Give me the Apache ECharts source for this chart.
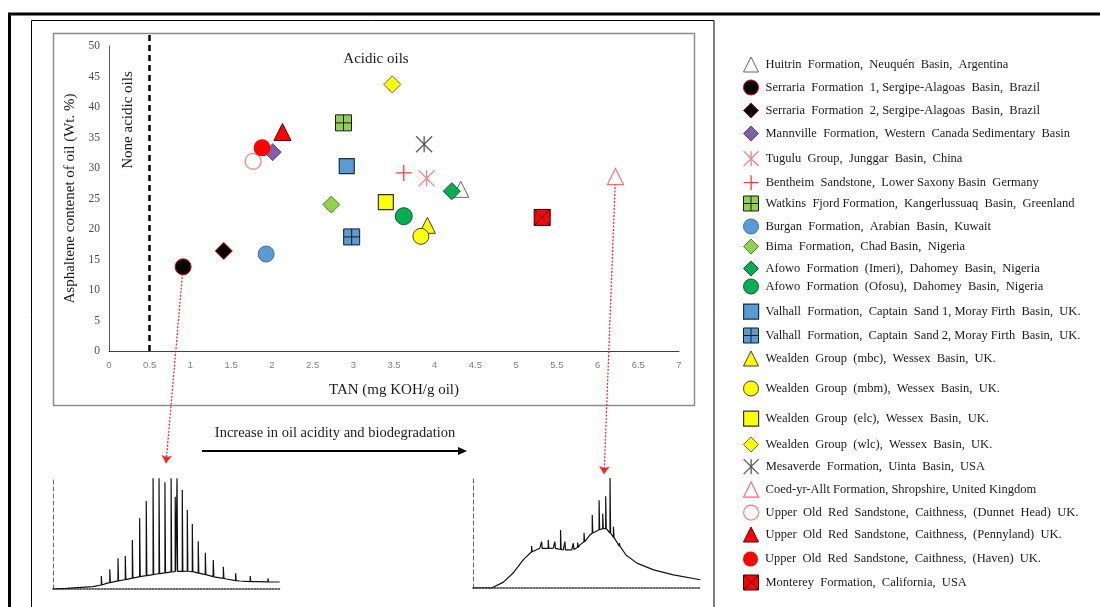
<!DOCTYPE html>
<html>
<head>
<meta charset="utf-8">
<script src="https://cdn.jsdelivr.net/npm/echarts@6/dist/echarts.min.js"></script>
<style>
  html, body { margin: 0; padding: 0; background: #fff; }
  #main { width: 1100px; height: 607px; }
</style>
</head>
<body>
<div id="main"></div>
<script>
// 数据：地层名称、TAN 与沥青质含量
const formations = [
  'Huitrin  Formation,  Neuquén  Basin,  Argentina',
  'Serraria  Formation  1, Sergipe-Alagoas  Basin,  Brazil',
  'Serraria  Formation  2, Sergipe-Alagoas  Basin,  Brazil',
  'Mannville  Formation,  Western  Canada Sedimentary  Basin',
  'Tugulu  Group,  Junggar  Basin,  China',
  'Bentheim  Sandstone,  Lower Saxony Basin  Germany',
  'Watkins  Fjord Formation,  Kangerlussuaq  Basin,  Greenland',
  'Burgan  Formation,  Arabian  Basin,  Kuwait',
  'Bima  Formation,  Chad Basin,  Nigeria',
  'Afowo  Formation  (Imeri),  Dahomey  Basin,  Nigeria',
  'Afowo  Formation  (Ofosu),  Dahomey  Basin,  Nigeria',
  'Valhall  Formation,  Captain  Sand 1, Moray Firth  Basin,  UK.',
  'Valhall  Formation,  Captain  Sand 2, Moray Firth  Basin,  UK.',
  'Wealden  Group  (mbc),  Wessex  Basin,  UK.',
  'Wealden  Group  (mbm),  Wessex  Basin,  UK.',
  'Wealden  Group  (elc),  Wessex  Basin,  UK.',
  'Wealden  Group  (wlc),  Wessex  Basin,  UK.',
  'Mesaverde  Formation,  Uinta  Basin,  USA',
  'Coed-yr-Allt Formation, Shropshire, United Kingdom',
  'Upper  Old  Red  Sandstone,  Caithness,  (Dunnet  Head)  UK.',
  'Upper  Old  Red  Sandstone,  Caithness,  (Pennyland)  UK.',
  'Upper  Old  Red  Sandstone,  Caithness,  (Haven)  UK.',
  'Monterey  Formation,  California,  USA'
]
const tanValues = [4.32, 0.91, 1.41, 2.01, 3.90, 3.62, 2.88, 1.93, 2.73, 4.21, 3.62, 2.92,
  2.98, 3.91, 3.83, 3.40, 3.48, 3.87, 6.22, 1.77, 2.13, 1.88, 5.32]
const asphaltene = [26.5, 13.8, 16.4, 32.6, 28.3, 29.2, 37.4, 15.9, 24.0, 26.2, 22.1, 30.3,
  18.7, 20.6, 18.8, 24.4, 43.7, 33.9, 28.6, 31.1, 35.9, 33.3, 21.9]
const xTicks = { min: 0, max: 7, step: 0.5 }
const yTicks = { min: 0, max: 50, step: 5 }

// 色谱图（左：轻度降解，右：严重降解）
const leftHump = [[0, 0], [5.9, 0.6], [17.5, 2.1], [23.4, 5.1], [30.7, 8.1], [38.0, 11.1],
  [45.4, 13.5], [52.6, 15.6], [60.0, 15.9], [64.3, 14.1], [70.2, 11.1], [76.0, 9.0],
  [81.9, 7.2], [89.2, 6.6], [99.4, 6.3]]
const leftSpikeX = [21.2, 24.9, 28.5, 31.7, 34.8, 38.0, 40.9, 43.9, 46.5, 49.1, 51.8, 53.6,
  54.4, 56.7, 58.9, 61.1, 63.7, 66.8, 70.3, 74.7, 80.1, 86.5, 94.3]
const leftSpikeBase = [3.6, 5.8, 7.3, 8.5, 9.8, 11.1, 12.0, 13.0, 13.8, 14.6, 15.4, 15.7,
  15.8, 15.9, 16.0, 15.6, 14.3, 13.0, 11.0, 9.6, 7.6, 6.7, 6.4]
const leftSpikeTop = [11.7, 17.7, 27.6, 29.7, 44.1, 63.7, 79.3, 99.7, 99.7, 96.1, 99.7, 83.2,
  99.7, 89.2, 71.2, 58.6, 42.9, 32.7, 26.1, 20.1, 14.1, 11.7, 9.6]

const rightHump = [[0, 0], [8.1, 0], [13.2, 5.1], [17.6, 13.6], [22.0, 25.6], [25.7, 33.1],
  [29.3, 36.2], [35.2, 36.2], [39.6, 34.6], [43.3, 34.6], [46.9, 39.2], [51.3, 48.2],
  [55.7, 54.2], [58.7, 54.2], [61.6, 46.7], [64.5, 37.6], [67.5, 30.1], [71.9, 22.6],
  [79.2, 16.5], [87.9, 12.0], [99.7, 7.5]]
const rightSpikeX = [25.7, 30.1, 33.0, 35.9, 38.4, 40.3, 44.0, 45.9, 48.7, 52.3, 55.3, 56.9,
  58.2, 60.1, 61.6, 64.2, 67.1]
const rightSpikeBase = [33, 36, 36, 36, 35, 34.6, 35, 37, 42, 50, 53, 54, 54, 50, 46, 38, 30]
const rightSpikeTop = [38.2, 42.2, 43.7, 42.2, 52.7, 42.2, 40.7, 41.4, 50.3, 66.3, 79.8, 67.8,
  83.5, 100, 55.7, 40.7, 31.6]

// 注释箭头终点（数据坐标，位于坐标轴下方）
const arrowEnds = [[0.70, -18.4], [6.08, -20.2]]

// 样式
const SERIF = 'Liberation Serif'
const P_PLUS = 'path://M5 0 L5 10 M0 5 L10 5'
const P_STAR = 'path://M0 0 L10 10 M10 0 L0 10 M5 0 L5 10'
const P_SQ_PLUS = 'path://M0 0 L10 0 L10 10 L0 10 Z M5 0 L5 10 M0 5 L10 5'
const P_SQ_X = 'path://M0 0 L10 0 L10 10 L0 10 Z M0 0 L10 10 M10 0 L0 10'
const markerStyles = [
  { symbol: 'triangle', size: 16, color: '#fff', border: '#666', bw: 1 },
  { symbol: 'circle', size: 16, color: '#000', border: '#e00000', bw: 1 },
  { symbol: 'diamond', size: 17, color: '#000', border: '#e00000', bw: 1 },
  { symbol: 'diamond', size: 17, color: '#7f60a8', border: '#5f497a', bw: 1 },
  { symbol: P_STAR, size: 16, color: 'transparent', border: '#ff7c80', bw: 1.3 },
  { symbol: P_PLUS, size: 16, color: 'transparent', border: '#ff3b3b', bw: 1.3 },
  { symbol: P_SQ_PLUS, size: 16, color: '#92d050', border: '#1a1a1a', bw: 1 },
  { symbol: 'circle', size: 16, color: '#5b9bd5', border: '#41719c', bw: 1 },
  { symbol: 'diamond', size: 17, color: '#92d050', border: '#548235', bw: 1 },
  { symbol: 'diamond', size: 17, color: '#00b050', border: '#1e5a36', bw: 1 },
  { symbol: 'circle', size: 17, color: '#00b050', border: '#1e5a36', bw: 1 },
  { symbol: 'rect', size: 15, color: '#5b9bd5', border: '#1f2d3d', bw: 1.2 },
  { symbol: P_SQ_PLUS, size: 16, color: '#5b9bd5', border: '#1a1a1a', bw: 1 },
  { symbol: 'triangle', size: 16, color: '#ffff00', border: '#404040', bw: 1 },
  { symbol: 'circle', size: 16, color: '#ffff00', border: '#404040', bw: 1 },
  { symbol: 'rect', size: 15, color: '#ffff00', border: '#333', bw: 1.2 },
  { symbol: 'diamond', size: 17, color: '#ffff00', border: '#666', bw: 1 },
  { symbol: P_STAR, size: 16, color: 'transparent', border: '#595959', bw: 1.3 },
  { symbol: 'triangle', size: 16, color: '#fff', border: '#ff6a6a', bw: 1.2 },
  { symbol: 'circle', size: 16, color: '#fff', border: '#ff7c80', bw: 1.2 },
  { symbol: 'triangle', size: 17, color: '#ff0000', border: '#5a0000', bw: 1 },
  { symbol: 'circle', size: 17, color: '#ff0000', border: '#ff0000', bw: 0 },
  { symbol: P_SQ_X, size: 16, color: '#ff0000', border: '#3a0000', bw: 1 }
]
// 图例各行的中心 y（原图行距不均匀）
const legendRowY = [64, 87, 110, 133, 158, 182, 203, 226, 246, 268, 286, 311, 335, 358,
  388, 418, 444, 466, 489, 512, 534, 559, 582]

function chromData (hump, sx, sb, st) {
  const pts = hump.map(p => [p[0], p[1]])
  sx.forEach((x, i) => {
    pts.push([x - 0.01, sb[i]], [x, st[i]], [x + 0.25, sb[i]])
  })
  return pts.sort((a, b) => a[0] - b[0])
}

const chart = echarts.init(document.getElementById('main'))

const scatterSeries = formations.map((name, i) => {
  const s = markerStyles[i]
  return {
    type: 'scatter',
    name: name,
    xAxisIndex: 0,
    yAxisIndex: 0,
    data: [[tanValues[i], asphaltene[i]]],
    symbol: s.symbol,
    symbolSize: s.size,
    symbolKeepAspect: true,
    itemStyle: { color: s.color, borderColor: s.border, borderWidth: s.bw, opacity: 1 },
    z: 5
  }
})

const legends = formations.map((name, i) => ({
  data: [name],
  left: 743,
  top: legendRowY[i] - 7.5,
  padding: 0,
  itemWidth: 15,
  itemHeight: 15,
  selectedMode: false,
  itemStyle: { borderWidth: markerStyles[i].bw },
  textStyle: { fontFamily: SERIF, fontSize: 12.5, color: '#1a1a1a', padding: [0, 0, 0, 2] }
}))

const hiddenAxis = {
  axisLabel: { show: false },
  axisTick: { show: false },
  splitLine: { show: false }
}

const option = {
  backgroundColor: '#fff',
  animation: false,
  legend: legends,
  grid: [
    { left: 109, top: 46, width: 570, height: 305 },
    { left: 53, top: 478, width: 228, height: 111 },
    { left: 473, top: 478, width: 228, height: 110 }
  ],
  xAxis: [
    {
      gridIndex: 0,
      type: 'value',
      min: xTicks.min,
      max: xTicks.max,
      interval: xTicks.step,
      name: 'TAN (mg KOH/g oil)',
      nameLocation: 'middle',
      nameGap: 32,
      nameTextStyle: { fontFamily: SERIF, fontSize: 15, color: '#1a1a1a' },
      axisLine: { lineStyle: { color: '#404040', width: 1 } },
      axisTick: { show: false },
      splitLine: { show: false },
      axisLabel: { margin: 9, fontFamily: 'Liberation Sans', fontSize: 9.5, color: '#7f7f7f' }
    },
    Object.assign({ gridIndex: 1, type: 'value', min: 0, max: 100,
      axisLine: { lineStyle: { color: '#333', width: 1.5, type: 'dotted' } } }, hiddenAxis),
    Object.assign({ gridIndex: 2, type: 'value', min: 0, max: 100,
      axisLine: { lineStyle: { color: '#333', width: 1.5, type: 'dotted' } } }, hiddenAxis)
  ],
  yAxis: [
    {
      gridIndex: 0,
      type: 'value',
      min: yTicks.min,
      max: yTicks.max,
      interval: yTicks.step,
      name: 'Asphaltene contenet of oil (Wt. %)',
      nameLocation: 'middle',
      nameGap: 28,
      nameTextStyle: { fontFamily: SERIF, fontSize: 15, color: '#1a1a1a' },
      axisLine: { show: true, lineStyle: { color: '#595959', width: 1 } },
      axisTick: { show: false },
      splitLine: { show: false },
      axisLabel: { margin: 9, fontFamily: SERIF, fontSize: 11.5, color: '#4d4d4d' }
    },
    Object.assign({ gridIndex: 1, type: 'value', min: 0, max: 100,
      axisLine: { show: true, lineStyle: { color: '#666', width: 1, type: [4, 3] } } }, hiddenAxis),
    Object.assign({ gridIndex: 2, type: 'value', min: 0, max: 100,
      axisLine: { show: true, lineStyle: { color: '#666', width: 1, type: [4, 3] } } }, hiddenAxis)
  ],
  series: [
    // 0.5 处的分界虚线
    {
      type: 'lines',
      coordinateSystem: 'cartesian2d',
      xAxisIndex: 0,
      yAxisIndex: 0,
      clip: false,
      silent: true,
      z: 2,
      lineStyle: { color: '#000', width: 2.5, type: [6, 4], opacity: 1 },
      data: [{ coords: [[0.5, 0], [0.5, 52.1]] }]
    },
    // 红色点线箭头
    {
      type: 'lines',
      coordinateSystem: 'cartesian2d',
      xAxisIndex: 0,
      yAxisIndex: 0,
      clip: false,
      silent: true,
      z: 3,
      symbol: ['none', 'arrow'],
      symbolSize: 8,
      lineStyle: { color: '#ff2020', width: 1.2, type: [2, 1.5], opacity: 1 },
      data: [
        { coords: [[tanValues[1], asphaltene[1]], arrowEnds[0]] },
        { coords: [[tanValues[18], asphaltene[18]], arrowEnds[1]] }
      ]
    },
    ...scatterSeries,
    {
      type: 'line',
      xAxisIndex: 1,
      yAxisIndex: 1,
      showSymbol: false,
      silent: true,
      lineStyle: { color: '#111', width: 1.2 },
      data: chromData(leftHump, leftSpikeX, leftSpikeBase, leftSpikeTop)
    },
    {
      type: 'line',
      xAxisIndex: 2,
      yAxisIndex: 2,
      showSymbol: false,
      silent: true,
      lineStyle: { color: '#111', width: 1.2 },
      data: chromData(rightHump, rightSpikeX, rightSpikeBase, rightSpikeTop)
    }
  ],
  graphic: [
    // 外框
    { type: 'rect', silent: true, shape: { x: 9.5, y: 14, width: 1100, height: 700 },
      style: { fill: 'none', stroke: '#000', lineWidth: 3 } },
    { type: 'rect', silent: true, shape: { x: 31.5, y: 20.5, width: 682.5, height: 700 },
      style: { fill: 'none', stroke: '#000', lineWidth: 1 } },
    { type: 'rect', silent: true, shape: { x: 53.5, y: 33.5, width: 641, height: 372 },
      style: { fill: 'none', stroke: '#8c8c8c', lineWidth: 1.5 } },
    // 区域文字
    { type: 'text', silent: true, x: 128, y: 120, rotation: Math.PI / 2,
      style: { text: 'None acidic oils', fontFamily: SERIF, fontSize: 15, fill: '#1a1a1a',
        align: 'center', verticalAlign: 'middle' } },
    { type: 'text', silent: true, x: 376, y: 59,
      style: { text: 'Acidic oils', fontFamily: SERIF, fontSize: 15, fill: '#1a1a1a',
        align: 'center', verticalAlign: 'middle' } },
    // 酸度增加箭头
    { type: 'text', silent: true, x: 335, y: 433,
      style: { text: 'Increase in oil acidity and biodegradation', fontFamily: SERIF,
        fontSize: 14.5, fill: '#1a1a1a', align: 'center', verticalAlign: 'middle' } },
    { type: 'line', silent: true, shape: { x1: 202, y1: 451, x2: 460, y2: 451 },
      style: { stroke: '#000', lineWidth: 2.2 } },
    { type: 'polygon', silent: true, shape: { points: [[458, 447], [467, 451], [458, 455]] },
      style: { fill: '#000' } }
  ]
}

chart.setOption(option)
</script>
</body>
</html>
